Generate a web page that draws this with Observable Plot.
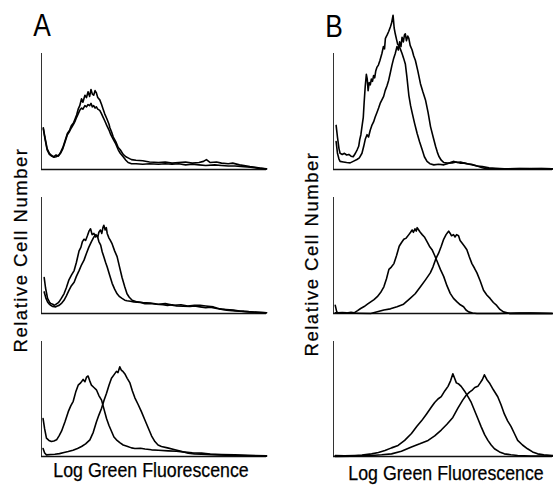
<!DOCTYPE html>
<html>
<head>
<meta charset="utf-8">
<script src="https://cdn.jsdelivr.net/npm/d3@7"></script>
<script src="https://cdn.jsdelivr.net/npm/@observablehq/plot@0.6"></script>
<style>
  html, body { margin: 0; padding: 0; background: #fff; }
  #chart { position: relative; width: 553px; height: 485px; overflow: hidden; background: #fff; font-family: "Liberation Sans", Arial, sans-serif; color: #000; }
  .lbl { position: absolute; white-space: nowrap; line-height: 1; -webkit-text-stroke: 0.25px #000; }
</style>
</head>
<body>
<div id="chart"></div>
<script>
// Panel letters and axis titles
const panelLetters = ["A", "B"];
const xTitle = "Log Green Fluorescence";
const yTitle = "Relative Cell Number";

// Histograms: [log fluorescence channel (0-100), relative cell number (0-100 = axis top)]
const A1_a = [[0.8,36],[1.5,28],[2.5,18],[3.5,14],[4.5,12],[5.5,11],[6.5,12.5],[7.5,11.5],[8.5,15],[9.5,19],[10.5,25],[11.5,31],[12.5,34],[13.3,38],[14.2,40],[15,44],[15.6,47],[16.3,52],[17,55],[17.8,61],[18.4,58],[19.3,64],[20,62],[20.7,67],[21.4,63],[22,69],[22.6,65],[23.2,64],[23.8,68],[24.4,66],[25,62],[25.9,60],[26.7,56],[27.4,52],[28.1,48],[29,44],[30,39],[30.4,36],[31.2,32],[31.9,28],[33,24],[34.1,19],[35,17],[36.3,13],[37.5,11],[38.5,10],[40,8.5],[42,8],[45,7.5],[48,6.5],[52,6],[55,6.5],[58,5.5],[61,6],[64,6.5],[67,5.5],[70,6],[72,7],[73.3,8.5],[75,6],[77.8,6.5],[80,5.5],[83,5],[85,5.5],[88,4],[90,3.5],[92.6,2.5],[95,2],[97,1.2],[100,0.5]];
const A1_b = [[0.8,35],[1.5,27],[2.5,17],[3.5,13],[4.5,11.5],[5.5,10.5],[6.5,11],[7.5,12],[8.5,14],[9.5,18],[10.5,24],[11.5,30],[12.5,33],[13.3,36],[14.2,39],[15,42],[15.6,45],[16.3,48],[17,51],[17.8,53],[18.4,52],[19.3,55],[20,54],[20.7,56],[21.4,55],[22,57],[22.6,54],[23.2,55],[23.8,53],[24.4,54],[25,52],[25.9,51],[26.7,48],[27.4,45],[28.1,42],[29,38],[30,34],[30.8,30],[31.9,26],[33,22],[34.1,17],[35,14],[36.3,11],[37.5,8],[38.5,6],[40,5],[42,5],[45,4.5],[48,5],[52,4.5],[55,5],[58,4.5],[61,5],[64,4],[67,4.5],[70,4],[73,3.5],[77,4],[80,3.5],[83,3],[86,3],[90,2.5],[93,2],[96,1.2],[100,0.5]];

const B1_a = [[1.2,38],[1.8,28],[2.5,18],[3,14],[4,13],[5,14],[6,12.5],[7,13],[8,11.5],[9,11],[10,14],[10.8,17],[11.5,20],[12,26],[12.5,30],[13,37],[13.6,45],[14,58],[14.5,72],[15,82],[15.4,78],[15.8,68],[16.3,75],[16.8,73],[17.3,78],[17.8,76],[18.3,81],[18.8,79],[19.3,85],[19.8,88],[20.5,90],[21.2,94],[22.1,100],[22.8,106],[23.3,104],[23.7,113],[24.5,116],[25.2,119],[26,123],[26.5,126],[27.2,133],[27.7,122],[28.2,117],[28.8,112],[29.3,108],[29.8,107],[30.5,104],[31.3,100],[32,96],[32.8,91],[33.5,80],[34.4,64],[35.2,55],[35.9,49],[37,40],[38.2,31],[39.3,24],[40.5,17],[41.5,11],[42.7,7],[44,5],[45.8,4],[48,4.5],[50.4,4],[52,5],[54,6.5],[55,7],[56.5,6],[58,6.5],[59.5,5.5],[61,5],[63,4.5],[65.6,3],[68,2.5],[71,1.5],[74,1],[78,0.5],[85,0.8],[90,0.5],[95,0.8],[100,0.5]];
const B1_b = [[1.2,24],[1.8,14],[2.5,9],[3,7],[4.5,6.5],[6,6],[7.6,5.7],[9,7],[10.7,8.6],[11.8,10],[13,14],[13.8,20],[14.5,26],[15.3,30],[16,28],[16.8,34],[17.5,38],[18.3,41],[19,45],[19.8,49],[20.6,53],[21.3,57],[22.1,60],[22.9,63],[23.6,68],[24.4,72],[25.2,77],[25.9,83],[26.7,90],[27.5,96],[28.2,100],[29,106],[29.6,103],[30.2,110],[30.8,106],[31.3,114],[31.9,110],[32.4,116],[32.8,117],[33.3,111],[33.9,115],[34.4,113],[35,107],[35.9,103],[36.6,98],[37.4,94],[38.5,85],[39.7,74],[40.8,67],[42,60],[43.2,49],[44.3,37],[45.5,28],[46.6,20],[47.4,15],[48.1,11.4],[49.2,8],[50.4,6],[52,5.5],[54.2,5.7],[56,6.5],[58,5.5],[59.5,5.7],[62,4.5],[65.6,3],[68,1.5],[70.2,0.5],[80,0.5],[90,0.8],[100,0.5]];

const A2_a = [[1.2,31],[1.8,22],[2.7,13],[3.5,10],[4.1,8.6],[5,8],[5.6,7],[6.5,8],[7.2,9],[7.8,10],[8.8,13],[10,17],[11,22],[12.2,29],[13.3,33],[14.5,37],[15.5,44],[16.7,54],[17.5,57],[18.2,62],[18.9,64],[19.6,63],[20.4,67],[21.1,71],[21.8,73],[22.5,68],[23.3,69],[24,66],[24.8,67],[25.5,62],[26.3,59],[27,53],[27.7,49],[28.5,44],[29.2,40],[30.3,33],[31.4,26],[32.5,21],[33.6,17],[34.7,14.5],[35.8,13],[37,11.5],[38,11],[39.5,10.5],[41,10],[44,9.5],[46,8.5],[48.4,8.6],[51,8],[54,7.5],[56,7],[58,7.5],[60,6.5],[63,6.3],[66,6],[68,6.5],[70.5,5.7],[73,5],[75,5.5],[77.9,4.3],[80,3.8],[82,3.5],[85.3,2.9],[88,2.2],[90,1.8],[92.6,1.4],[96,1],[100,0.6]];
const A2_b = [[1.2,18.6],[2,13],[2.7,10],[3.5,8],[4.1,7],[5,6],[6.3,5.7],[7,6.5],[7.8,7],[9,9],[10,11.4],[11,15],[12.2,20],[13.3,24],[14.5,27],[15.5,32],[16.7,37],[17.8,42],[18.9,46],[20,52],[21,57],[22.2,62],[23.3,66],[24.2,68],[25,66],[25.5,70],[26.2,72],[26.8,69],[27.3,74],[27.7,76],[28.3,72],[28.8,74],[29.2,69],[30,65],[30.6,63],[31.4,60],[32.5,54],[33.6,49],[34.7,40],[35.8,31],[37,23],[38,17],[39,14],[40.3,11.4],[42.5,10],[45,9.5],[48.4,9],[52,8],[55,8.5],[58.7,7],[62,7.5],[65,6.5],[68,7],[70.5,7],[73,6.5],[76.4,5.7],[79,4],[82.3,2.9],[86,2.3],[90,1.8],[92.6,1.4],[96,1],[100,0.6]];

const B2_a = [[0.8,7],[1.4,2],[1.8,0.6],[4,0.8],[6,0.5],[8,1],[9.4,0.6],[11,2.5],[12.4,4.3],[14,6],[15.5,8],[17,10],[18.5,12],[20,14.5],[21.5,18],[23,23],[24.2,30],[25.3,38],[26.4,40],[27.6,43],[28.8,50],[30,58],[31,61],[32.1,64],[33.2,65],[34.4,68],[35.2,70],[35.9,72],[36.5,70],[37.2,73],[37.8,71],[38.2,74],[38.9,72],[39.6,70],[40.5,68],[41.5,66],[42.7,62],[43.8,58],[45,55],[46.2,50],[47.3,45],[48.8,38],[50.3,32],[51.8,24],[53.3,17.4],[54.8,13],[56.4,10],[57.9,7.5],[59.4,5.8],[60.5,3],[61.7,1.4],[63.5,0.5],[65.5,0],[75,0],[85,0.3],[100,0]];
const B2_b = [[0.8,0.6],[5,0.3],[10,0.2],[17,0],[20,1.5],[23,3],[26,4],[29,5.8],[32,8],[35,13],[37.3,17],[39.7,23],[42,29],[44.2,35],[45.4,40],[46.5,46],[47.2,49],[48,52],[49.2,58],[50.3,64],[51.4,68],[52.2,70],[52.6,71],[53.3,69],[53.9,67],[54.8,68],[55.5,66],[56.2,68],[57.1,67],[57.8,63],[58.6,61],[59.8,58],[60.9,55],[62,49],[63.2,43],[64.4,39],[65.5,35],[67,28],[68.5,20],[70,16],[71.5,13],[73,9.5],[74.5,7],[76,3.5],[77.6,1.4],[80.6,0],[90,0.3],[100,0]];

const A3_a = [[0.7,33],[1.4,24],[2.2,16],[3.3,14],[4.4,13],[5.5,13.5],[6.7,14.5],[7.8,18],[8.9,22],[10.4,30],[11.9,39],[13,44],[14.1,48],[15.2,56],[16.3,62],[17.4,64],[18.5,67],[19.3,65],[20,69],[20.7,70],[21.4,66],[22.2,62],[23.3,60],[24.4,58],[25.5,53],[26.7,49],[27.8,41],[28.9,33],[30,27],[31.1,22],[32.2,17],[33.3,14.5],[34.8,12],[36.3,10],[38,9],[40,7.5],[41.5,7],[44,7.2],[46,6.5],[48.9,5.8],[52,5.5],[56.3,4.9],[60,4.5],[63.7,3.8],[67,3.3],[71.1,2.9],[75,2.2],[80,1.8],[85.9,1.4],[92,1],[100,0.6]];
const A3_b = [[0.7,7],[1.4,3],[2.2,1.4],[4,1.8],[5.9,2],[8,2.5],[10,3.5],[11.9,4.3],[14,5.5],[16,7],[17.8,8.7],[19.6,11],[21.5,14.5],[23,21],[24.4,30],[25.5,36],[26.7,42],[27.8,49],[28.9,55],[30,62],[31.1,68],[32.2,71],[33.3,74],[34,73],[34.8,78],[35.5,75],[36.2,74],[37,72],[38.1,68],[39.3,64],[40.4,57],[41.5,51],[43,45],[44.4,39],[45.9,32],[47.4,25],[48.9,18],[50.4,13],[51.8,10],[53.3,8.7],[56,7.5],[59.3,5.8],[62,4.5],[65.2,2.9],[68,2.3],[71.1,2],[78,1.4],[85.9,0.9],[92,0.6],[100,0.3]];

const B3_a = [[0.8,0.9],[5,0.6],[9.8,0.9],[13,1.2],[17.4,2.3],[20.5,3.5],[23.5,5.2],[26.5,7.5],[29.5,9.6],[32.5,14],[35.6,20],[38,26],[40.2,31],[42.5,37],[44.7,43],[46.2,47],[47.7,50],[49.2,52],[50.8,57],[52.3,61],[53.5,66],[54.5,72],[55.3,68],[56.1,64],[57.2,63],[58.3,61],[59.8,57],[61.4,52],[62.9,47],[64.4,40],[65.9,33],[67.4,26],[69,19],[70.5,14],[72,10],[73.5,6.7],[75.8,4],[78,2.3],[81,1.5],[84.1,0.9],[90,0.5],[100,0.3]];
const B3_b = [[0.8,0],[8,0.3],[17.4,0.9],[22,1.5],[26.5,2.3],[31,4.5],[35.6,8.2],[39.4,11],[43.2,14],[46.2,18],[49.2,23],[51.8,28],[54.5,34],[56.8,42],[59,49],[60.5,53],[62.1,56],[63.5,58],[64.5,60],[65.9,61],[67,64],[68,67],[68.9,71],[70,67],[71.2,64],[73,58],[75,52],[76.5,45],[78,37],[79.5,31],[81.1,26],[82.6,20],[84.1,14],[86.3,10],[88.6,6.7],[90.9,4],[93.2,2.3],[96,1.4],[100,0.9]];

// Panel grid (column: A/B, row: 1-3)
const panels = [
  {col: 0, row: 0, curves: [A1_a, A1_b]},
  {col: 1, row: 0, curves: [B1_a, B1_b]},
  {col: 0, row: 1, curves: [A2_a, A2_b]},
  {col: 1, row: 1, curves: [B2_a, B2_b]},
  {col: 0, row: 2, curves: [A3_a, A3_b]},
  {col: 1, row: 2, curves: [B3_a, B3_b]}
];

// layout (pixels)
const colX = [[41, 266], [333, 552]];
const rowY = [[53, 169], [197, 313], [341, 456]];
const chart = document.getElementById("chart");
const m = 1;

for (const p of panels) {
  const [x0, x1] = colX[p.col];
  const [y0, y1] = rowY[p.row];
  const w = x1 - x0, h = y1 - y0;
  const marks = [
    Plot.ruleX([0], {stroke: "#333", strokeWidth: 1}),
    Plot.ruleY([0], {stroke: "#111", strokeWidth: 1.4})
  ];
  for (const c of p.curves) {
    marks.push(Plot.line(c, {x: d => d[0], y: d => d[1], stroke: "#000", strokeWidth: 1.6, strokeLinejoin: "round"}));
  }
  const svg = Plot.plot({
    width: w + 2 * m,
    height: h + 2 * m,
    marginLeft: m, marginRight: m, marginTop: m, marginBottom: m,
    x: {domain: [0, 100], axis: null},
    y: {domain: [0, 100], axis: null},
    style: {overflow: "visible", background: "transparent"},
    marks
  });
  svg.style.position = "absolute";
  svg.style.left = (x0 - m) + "px";
  svg.style.top = (y0 - m) + "px";
  chart.appendChild(svg);
}

function addLabel(text, cx, cy, size, extra) {
  const d = document.createElement("div");
  d.className = "lbl";
  d.textContent = text;
  d.style.left = cx + "px";
  d.style.top = cy + "px";
  d.style.fontSize = size + "px";
  d.style.transform = "translate(-50%,-50%) " + (extra || "");
  chart.appendChild(d);
  return d;
}

const la = addLabel(panelLetters[0], 41.5, 24.5, 31, "scaleX(0.85)");
const lb = addLabel(panelLetters[1], 333.5, 26, 31, "scaleX(0.85)");
la.style.webkitTextStroke = "0px"; lb.style.webkitTextStroke = "0px";
const ya = addLabel(yTitle, 20.5, 250, 18.5, "rotate(-90deg)");
ya.style.letterSpacing = "1.5px";
const yb = addLabel(yTitle, 311.5, 254, 18.5, "rotate(-90deg)");
yb.style.letterSpacing = "1.5px";
addLabel(xTitle, 150.5, 470.5, 19.5, "scaleX(0.91)");
addLabel(xTitle, 446, 474, 19.5, "scaleX(0.91)");
</script>
</body>
</html>
